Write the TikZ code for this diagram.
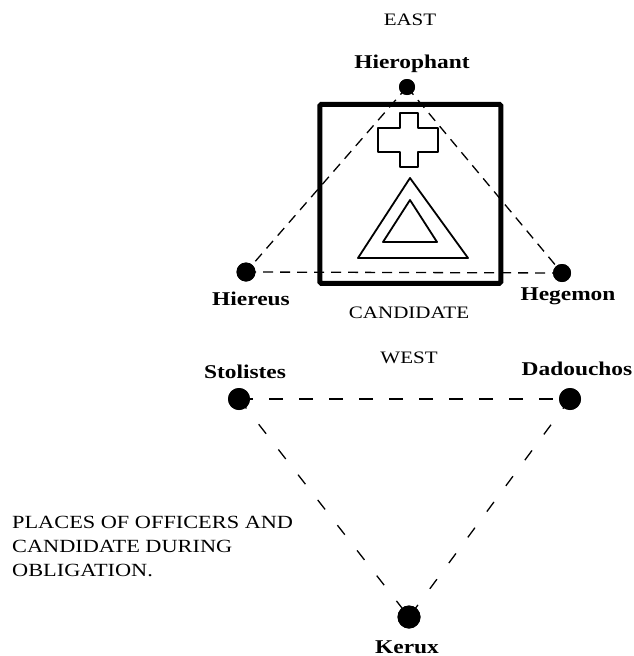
\documentclass[tikz,border=0pt]{standalone}
\usepackage{fontspec}
\setmainfont{Liberation Serif}[FakeStretch=1.2]
\begin{document}
\begin{tikzpicture}[x=1pt,y=-1pt,
  officer/.style={circle,fill=black,inner sep=0pt,minimum size=#1},
  officer/.default=18pt,
  officerlabel/.style={font=\bfseries\fontsize{19.5}{22}\selectfont,anchor=base,inner sep=0pt},
  capslabel/.style={font=\fontsize{17.5}{24}\selectfont,anchor=base,inner sep=0pt},
  upperdash/.style={line width=1.3pt,dash pattern=on 10pt off 7pt},
  lowerdash/.style={line width=1.3pt,dash pattern=on 12pt off 20pt},
  westdash/.style={line width=1.4pt,dash pattern=on 14pt off 16pt},
  emblem/.style={line width=1.8pt,line join=round}]
\useasboundingbox (0,0) rectangle (634,656);

% titles
\node[capslabel] (east) at (410,25) {EAST};
\node[capslabel] (west) at (409,363) {WEST};
\node[capslabel] (candlabel) at (409,318) {CANDIDATE};

% officers
\node[officer=16pt] (hierophant) at (407,87) {};
\node[officer=19pt] (hiereus) at (246,272) {};
\node[officer=18pt] (hegemon) at (562,273) {};
\node[officer=22pt] (stolistes) at (239,399) {};
\node[officer=22pt] (dadouchos) at (570,399) {};
\node[officer=23pt] (kerux) at (409,617) {};

\node[officerlabel] (l-hierophant) at (412,68) {Hierophant};
\node[officerlabel] (l-hiereus) at (251,305) {Hiereus};
\node[officerlabel] (l-hegemon) at (568,300) {Hegemon};
\node[officerlabel] (l-stolistes) at (245,378) {Stolistes};
\node[officerlabel] (l-dadouchos) at (577,375) {Dadouchos};
\node[officerlabel] (l-kerux) at (407,653) {Kerux};

% dashed connections
\draw[upperdash] (hierophant.center) -- (hiereus.center);
\draw[upperdash] (hierophant.center) -- (hegemon.center);
\draw[upperdash] (hiereus.center) -- (hegemon.center);
\draw[westdash] (stolistes.center) -- (dadouchos.center);
\draw[lowerdash] (stolistes.center) -- (kerux.center);
\draw[lowerdash] (dadouchos.center) -- (kerux.center);

% candidate square
\node[draw,line width=5pt,rounded corners=1.5pt,minimum width=181pt,minimum height=179pt,inner sep=0pt] (candidate) at (410.3,193.8) {};

% cross
\draw[emblem] (400,113) -- (418,113) -- (418,128) -- (438,128) -- (438,152) -- (418,152)
  -- (418,167) -- (400,167) -- (400,152) -- (378,152) -- (378,128) -- (400,128) -- cycle;
% triangles
\draw[emblem] (410,178) -- (468,258) -- (358,258) -- cycle;
\draw[emblem] (410,200) -- (437,242) -- (383,242) -- cycle;

% redraw dots on top
\fill (hierophant) circle (8pt);
\fill (hiereus) circle (9.5pt);
\fill (hegemon) circle (9pt);
\fill (stolistes) circle (11pt);
\fill (dadouchos) circle (11pt);
\fill (kerux) circle (11.5pt);

% caption
\node[font=\fontsize{18.6}{24}\selectfont,align=left,anchor=west,inner sep=0pt] (caption) at (12,546)
  {PLACES OF OFFICERS AND\\CANDIDATE DURING\\OBLIGATION.};
\end{tikzpicture}
\end{document}
